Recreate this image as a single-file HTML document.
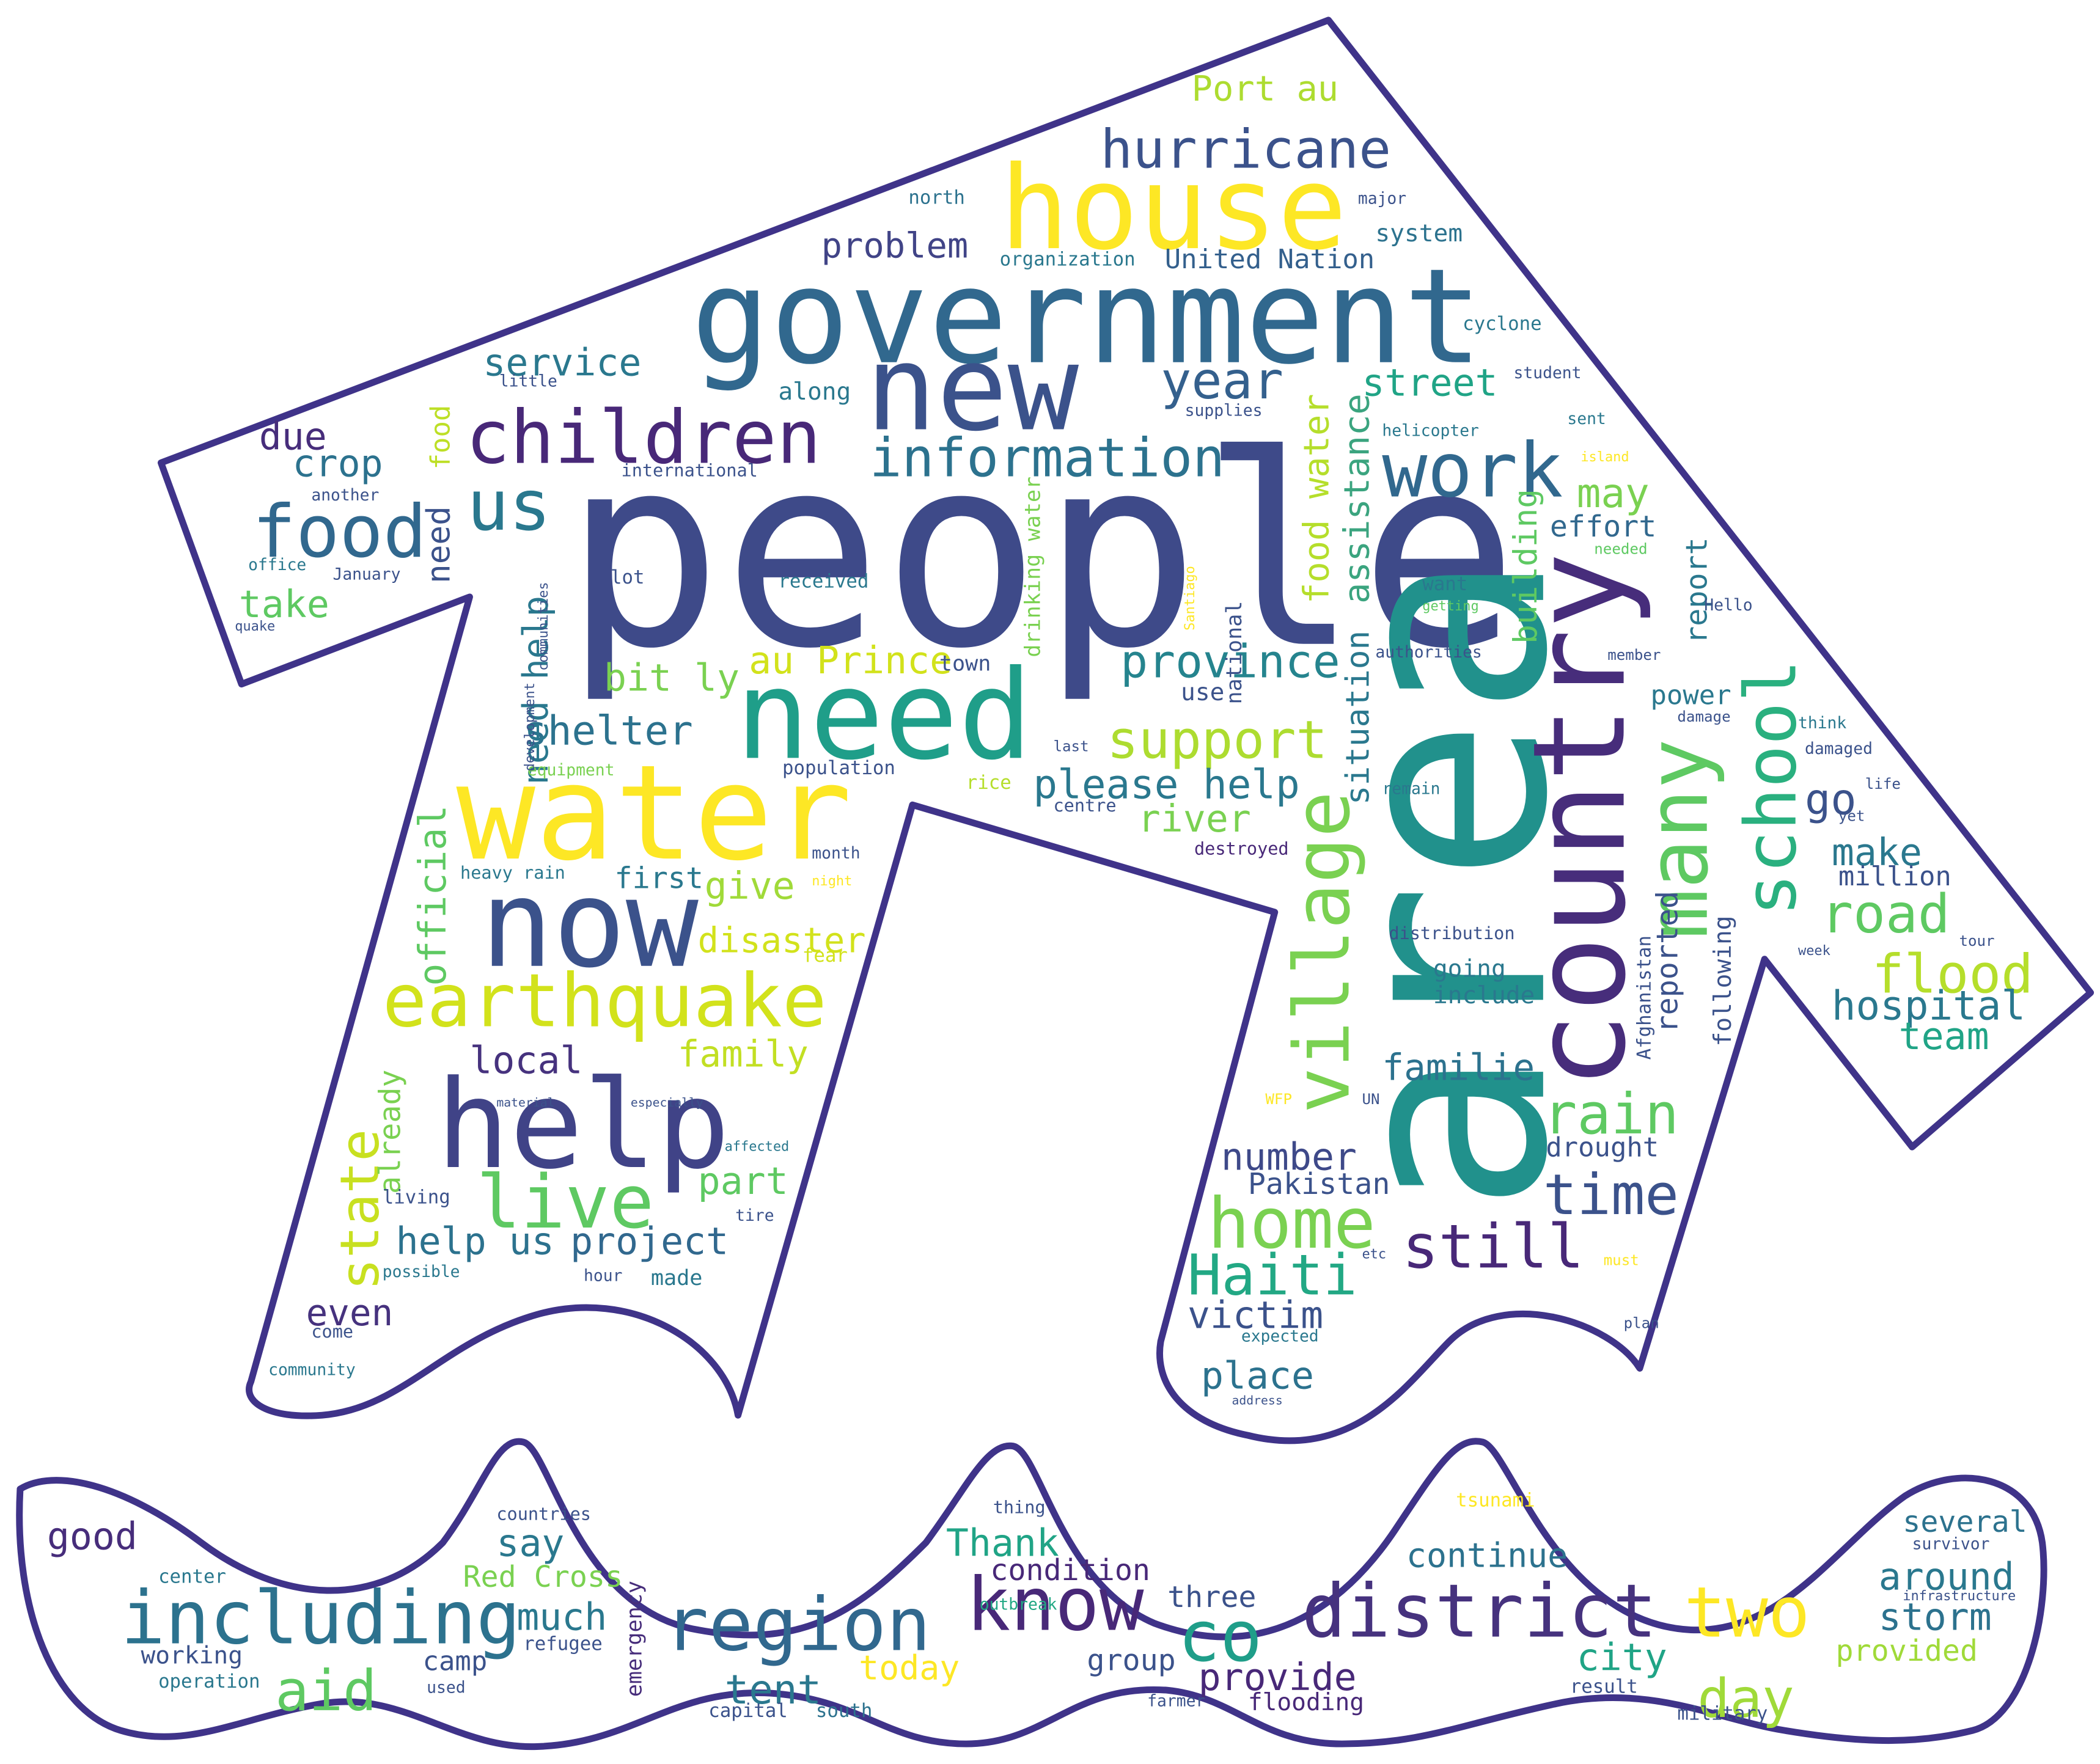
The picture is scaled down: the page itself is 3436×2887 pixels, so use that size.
<!DOCTYPE html>
<html><head><meta charset="utf-8"><style>
html,body{margin:0;padding:0;background:#fff;width:3436px;height:2887px;overflow:hidden}
svg{display:block}
text{font-family:"DejaVu Sans Mono","Liberation Mono",monospace}
</style></head><body>
<svg id="wc" width="3436" height="2887" viewBox="0 0 1565 1315" preserveAspectRatio="none" xmlns="http://www.w3.org/2000/svg">
<path fill="none" stroke="#3f3389" stroke-width="5" stroke-linejoin="round"
 d="M990,15 L1558,740 L1425,855 L1315,715 L1222,1020 C1200,985 1120,960 1080,1000 C1050,1030 1010,1090 930,1070 C880,1060 860,1030 865,1000 L950,680 L680,600 L550,1055 C540,1000 470,960 400,980 C330,1000 300,1050 240,1055 C200,1058 180,1045 187,1030 L350,445 L180,510 L120,345 Z"/>
<path fill="none" stroke="#3f3389" stroke-width="5" stroke-linejoin="round"
 d="M15,1110 C40,1095 90,1105 150,1150 C210,1195 280,1200 330,1150 C360,1110 370,1070 390,1075 C410,1080 430,1200 520,1215 C600,1230 640,1200 690,1150 C720,1110 735,1075 755,1078 C775,1082 790,1180 860,1210 C940,1240 1000,1200 1040,1140 C1070,1095 1085,1070 1105,1075 C1125,1080 1160,1210 1260,1215 C1330,1218 1370,1150 1420,1115 C1460,1090 1515,1100 1522,1150 C1528,1200 1510,1280 1470,1290 C1430,1300 1390,1300 1330,1290 C1280,1282 1230,1255 1160,1270 C1090,1285 1060,1300 1000,1300 C940,1300 920,1265 870,1260 C800,1255 780,1300 720,1300 C660,1300 640,1265 570,1262 C500,1260 470,1300 400,1302 C340,1304 300,1260 240,1270 C180,1280 140,1305 90,1290 C40,1275 10,1200 15,1110 Z"/>
<g id="words"></g>
</svg>
<script>
// [word, x, baseline y, font size, color, rotation]
const rows=[
["people",420,480,197,"#3e4a89",0],
["area",1150,905,205,"#21918c",-90],
["government",515,270,98,"#31688e",0],
["house",745,185,86,"#fde725",0],
["new",645,320,88,"#3b528b",0],
["need",548,565,92,"#1f9e89",0],
["water",340,640,98,"#fde725",0],
["now",358,720,90,"#3b528b",0],
["help",325,870,91,"#404387",0],
["earthquake",285,765,55,"#d2e21b",0],
["children",347,345,55,"#482878",0],
["country",1210,812,95,"#472d7b",-90],
["school",1338,683,53,"#2ab07f",-90],
["many",1272,700,62,"#5ec962",-90],
["village",1005,830,57,"#7ad151",-90],
["food",188,415,54,"#31688e",0],
["us",348,395,52,"#2a788e",0],
["work",1030,370,56,"#31688e",0],
["information",648,355,40,"#2c728e",0],
["hurricane",820,125,40,"#3b528b",0],
["year",865,297,38,"#34608d",0],
["support",825,565,39,"#addc30",0],
["province",835,505,34,"#25848e",0],
["please help",770,595,30,"#2a788e",0],
["live",355,915,55,"#5ec962",0],
["state",282,962,40,"#c8e020",-90],
["home",900,930,52,"#7ad151",0],
["Haiti",885,965,42,"#22a884",0],
["still",1045,945,45,"#482878",0],
["time",1150,905,42,"#3b528b",0],
["rain",1150,845,42,"#5ec962",0],
["road",1357,695,40,"#5ec962",0],
["flood",1395,740,40,"#b5de2b",0],
["hospital",1365,760,30,"#2a788e",0],
["including",90,1225,55,"#2c728e",0],
["region",495,1230,55,"#31688e",0],
["know",720,1215,55,"#482878",0],
["district",970,1220,55,"#46327e",0],
["two",1255,1220,52,"#fde725",0],
["co",878,1238,52,"#1f9e89",0],
["day",1265,1280,40,"#a0da39",0],
["aid",205,1275,42,"#5ec962",0],
["shelter",390,555,30,"#2c728e",0],
["disaster",520,710,26,"#d2e21b",0],
["family",505,795,27,"#c2df23",0],
["street",1015,295,28,"#20a486",0],
["service",360,280,28,"#2a788e",0],
["problem",612,192,26,"#414487",0],
["United Nation",868,200,20,"#34608d",0],
["Port au",888,75,26,"#addc30",0],
["crop",218,355,28,"#2c728e",0],
["take",178,460,28,"#5ec962",0],
["due",193,335,28,"#472d7b",0],
["may",1175,378,30,"#7ad151",0],
["effort",1155,400,22,"#31688e",0],
["power",1230,525,20,"#2a788e",0],
["go",1345,607,32,"#3b528b",0],
["make",1365,645,28,"#2a788e",0],
["million",1370,660,20,"#3b528b",0],
["team",1415,782,28,"#20a486",0],
["familie",1030,805,27,"#2c728e",0],
["number",910,872,28,"#3e4989",0],
["Pakistan",930,890,22,"#3b528b",0],
["victim",885,990,28,"#3b528b",0],
["place",895,1035,28,"#2c728e",0],
["help us",295,935,28,"#2c728e",0],
["project",425,935,28,"#31688e",0],
["give",525,670,28,"#a0da39",0],
["first",458,662,22,"#2a788e",0],
["local",350,800,28,"#46327e",0],
["part",520,890,28,"#5ec962",0],
["even",228,988,27,"#46327e",0],
["official",332,735,28,"#5ec962",-90],
["au Prince",558,502,28,"#d2e21b",0],
["bit ly",450,515,28,"#7ad151",0],
["river",848,620,28,"#7ad151",0],
["good",35,1155,28,"#472d7b",0],
["say",370,1160,28,"#2a788e",0],
["much",385,1215,28,"#2a788e",0],
["Thank",705,1160,28,"#20a486",0],
["condition",738,1178,22,"#482878",0],
["continue",1048,1168,25,"#2c728e",0],
["several",1418,1142,22,"#2c728e",0],
["around",1400,1185,28,"#2a788e",0],
["storm",1400,1215,28,"#2c728e",0],
["provided",1368,1238,22,"#a0da39",0],
["city",1175,1245,28,"#20a486",0],
["tent",540,1270,30,"#2a788e",0],
["today",640,1252,25,"#fde725",0],
["provide",893,1260,28,"#482878",0],
["three",870,1198,22,"#3b528b",0],
["group",810,1245,22,"#3b528b",0],
["Red Cross",345,1183,22,"#7ad151",0],
["camp",315,1245,20,"#3b528b",0],
["working",105,1240,18,"#3b528b",0],
["flooding",930,1275,18,"#482878",0],
["food water",990,450,26,"#b5de2b",-90],
["assistance",1020,450,26,"#3ba47f",-90],
["situation",1020,600,24,"#2a788e",-90],
["building",1145,480,24,"#5ec962",-90],
["report",1272,480,22,"#2a788e",-90],
["reported",1250,770,22,"#3b528b",-90],
["following",1290,780,18,"#3b528b",-90],
["need help",408,585,26,"#2a788e",-90],
["need",335,435,24,"#3b528b",-90],
["food",335,350,20,"#bddf26",-90],
["already",298,890,22,"#7ad151",-90],
["national",925,525,16,"#3b528b",-90],
["drinking water",775,490,16,"#7ad151",-90],
["Afghanistan",1230,790,14,"#3b528b",-90],
["emergency",478,1265,16,"#472d7b",-90],
["system",1025,180,18,"#2c728e",0],
["major",1012,152,12,"#3b528b",0],
["cyclone",1090,246,14,"#2a788e",0],
["student",1128,282,12,"#3b528b",0],
["north",677,152,14,"#2c728e",0],
["along",580,298,18,"#2a788e",0],
["drought",1152,862,20,"#3b528b",0],
["include",1068,748,18,"#2a788e",0],
["going",1068,728,18,"#2a788e",0],
["distribution",1035,700,13,"#3b528b",0],
["countries",370,1133,13,"#3b528b",0],
["center",118,1180,14,"#2a788e",0],
["operation",118,1258,14,"#2a788e",0],
["refugee",390,1230,14,"#3b528b",0],
["used",318,1262,12,"#3b528b",0],
["capital",528,1280,14,"#3b528b",0],
["south",608,1280,14,"#2c728e",0],
["outbreak",730,1200,12,"#22a884",0],
["farmer",855,1272,12,"#3b528b",0],
["result",1170,1262,14,"#3b528b",0],
["military",1250,1282,14,"#3b528b",0],
["survivor",1425,1155,12,"#3b528b",0],
["infrastructure",1418,1193,10,"#3b528b",0],
["tsunami",1085,1123,14,"#fde725",0],
["thing",740,1128,13,"#3b528b",0],
["lot",455,435,14,"#3b528b",0],
["received",580,438,14,"#2a788e",0],
["town",700,500,16,"#3b528b",0],
["use",880,522,18,"#3b528b",0],
["population",583,577,14,"#3b528b",0],
["equipment",393,578,12,"#7ad151",0],
["heavy rain",343,655,13,"#2a788e",0],
["month",605,640,12,"#3b528b",0],
["destroyed",890,637,13,"#482878",0],
["remain",1030,592,12,"#2a788e",0],
["authorities",1025,490,12,"#3b528b",0],
["damage",1250,538,11,"#3b528b",0],
["damaged",1345,562,12,"#3b528b",0],
["think",1340,543,12,"#2a788e",0],
["organization",745,198,14,"#2a788e",0],
["supplies",883,310,12,"#3b528b",0],
["little",372,288,12,"#3b528b",0],
["international",463,355,13,"#3b528b",0],
["another",232,373,12,"#3b528b",0],
["January",248,432,12,"#3b528b",0],
["office",185,425,12,"#2a788e",0],
["quake",175,470,10,"#3b528b",0],
["living",285,897,14,"#3b528b",0],
["possible",285,952,12,"#2a788e",0],
["hour",435,955,12,"#3b528b",0],
["made",485,958,16,"#2a788e",0],
["community",200,1025,12,"#2a788e",0],
["come",232,997,13,"#3b528b",0],
["expected",925,1000,12,"#2a788e",0],
["address",918,1047,9,"#3b528b",0],
["WFP",943,823,11,"#fde725",0],
["UN",1015,823,11,"#3b528b",0],
["plan",1210,990,11,"#3b528b",0],
["must",1195,943,11,"#fde725",0],
["etc",1015,938,10,"#3b528b",0],
["tire",548,910,12,"#3b528b",0],
["affected",540,858,10,"#2a788e",0],
["especially",470,825,9,"#3b528b",0],
["material",370,825,9,"#3b528b",0],
["night",605,660,10,"#fde725",0],
["fear",598,717,14,"#d2e21b",0],
["rice",720,588,14,"#b5de2b",0],
["centre",785,605,13,"#3b528b",0],
["last",785,560,11,"#3b528b",0],
["sent",1168,316,12,"#2a788e",0],
["island",1178,344,10,"#fde725",0],
["Hello",1270,455,12,"#3b528b",0],
["member",1198,492,11,"#3b528b",0],
["yet",1370,612,11,"#3b528b",0],
["life",1390,588,11,"#3b528b",0],
["tour",1460,705,11,"#3b528b",0],
["week",1340,712,10,"#3b528b",0],
["needed",1188,413,11,"#5ec962",0],
["want",1060,440,14,"#2a788e",0],
["getting",1060,455,10,"#5ec962",0],
["helicopter",1030,325,12,"#2a788e",0],
["Santiago",890,470,10,"#fde725",-90],
["communities",408,500,10,"#3b528b",-90],
["development",398,575,10,"#3b528b",-90]
];
const words=rows.map(r=>r[0]);
const xs=rows.map(r=>r[1]);
const ys=rows.map(r=>r[2]);
const sizes=rows.map(r=>r[3]);
const colors=rows.map(r=>r[4]);
const rots=rows.map(r=>r[5]);
const g=document.getElementById('words');
const NS='http://www.w3.org/2000/svg';
for(let i=0;i<words.length;i++){
  const t=document.createElementNS(NS,'text');
  
  
  t.setAttribute('x',xs[i]);
  t.setAttribute('y',ys[i]);
  t.setAttribute('font-size',sizes[i]);
  t.setAttribute('fill',colors[i]);
  if(rots[i]) t.setAttribute('transform','rotate('+rots[i]+' '+xs[i]+' '+ys[i]+')');
  t.textContent=words[i];
  g.appendChild(t);
}
</script>
</body></html>
